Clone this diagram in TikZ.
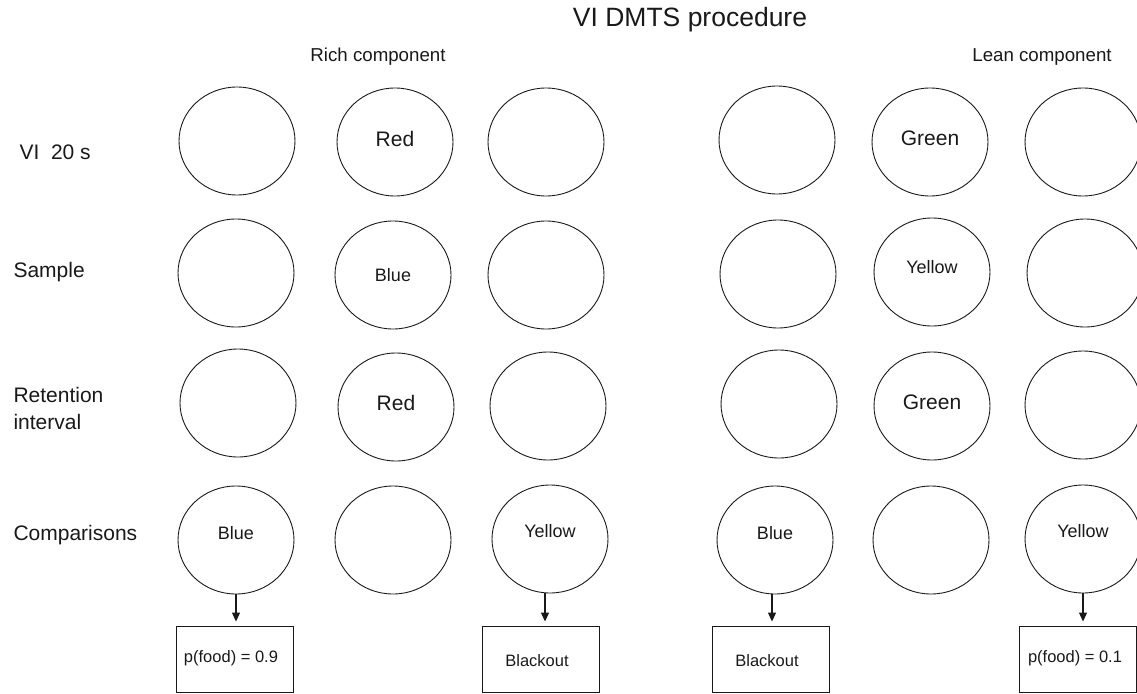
\documentclass[tikz,border=0pt]{standalone}
\usepackage{fontspec}
\setmainfont{Liberation Sans}
\usetikzlibrary{shapes.geometric,arrows.meta}
\tikzset{
  circ/.style={draw=black!90, line width=0.9pt, ellipse, minimum width=116pt, minimum height=108pt, inner sep=0pt},
  boxn/.style={draw=black!90, line width=0.9pt, rectangle, minimum width=117pt, minimum height=66pt, inner sep=0pt},
  big/.style={font=\fontsize{21}{25}\selectfont, text=black!90},
  small/.style={font=\fontsize{18}{22}\selectfont, text=black!90},
  boxtxt/.style={font=\fontsize{16.5}{20}\selectfont, text=black!90},
  rowlab/.style={anchor=west, align=left, font=\fontsize{21}{27}\selectfont, text=black!90},
  comp/.style={font=\fontsize{18.7}{22}\selectfont, text=black!90},
  ttl/.style={font=\fontsize{26.5}{30}\selectfont, text=black!90},
  arr/.style={line width=1.1pt, draw=black!90, -{Triangle[length=9pt,width=8pt]}, shorten >=4pt}
}
\begin{document}
\begin{tikzpicture}[x=1pt,y=-1pt]
\useasboundingbox (0,0) rectangle (1137,693);
% titles
\node[ttl] (title) at (690,20) {VI DMTS procedure};
\node[comp] (rich) at (378,57) {Rich component};
\node[comp] (lean) at (1042,57) {Lean component};
% row labels
\node[rowlab] (l1) at (16,152) {VI\ \ 20 s};
\node[rowlab] (l2) at (10,272) {Sample};
\node[rowlab] (l3) at (10,408) {Retention\\interval};
\node[rowlab] (l4) at (10,535) {Comparisons};
% row 1
\node[circ] (r11) at (237,141) {};
\node[circ, label={[big, yshift=3pt]center:Red}] (r12) at (395,142) {};
\node[circ] (r13) at (546,142) {};
\node[circ] (g11) at (777,140) {};
\node[circ, label={[big, yshift=4pt]center:Green}] (g12) at (930,142) {};
\node[circ] (g13) at (1083,142) {};
% row 2
\node[circ] (r21) at (236,273) {};
\node[circ, label={[small, yshift=0pt]center:Blue}] (r22) at (393,275) {};
\node[circ] (r23) at (546,275) {};
\node[circ] (g21) at (778,274) {};
\node[circ, label={[small, yshift=5pt]center:Yellow}] (g22) at (932,272) {};
\node[circ] (g23) at (1085,273) {};
% row 3
\node[circ] (r31) at (238,403) {};
\node[circ, label={[big, yshift=4pt]center:Red}] (r32) at (396,407) {};
\node[circ] (r33) at (548,406) {};
\node[circ] (g31) at (779,404) {};
\node[circ, label={[big, yshift=4pt]center:Green}] (g32) at (932,406) {};
\node[circ] (g33) at (1083,405) {};
% row 4
\node[circ, label={[small, yshift=7pt]center:Blue}] (r41) at (236,540) {};
\node[circ] (r42) at (393,540) {};
\node[circ, label={[small, yshift=8pt]center:Yellow}] (r43) at (550,539) {};
\node[circ, label={[small, yshift=7pt]center:Blue}] (g41) at (775,540) {};
\node[circ] (g42) at (931,540) {};
\node[circ, label={[small, yshift=8pt]center:Yellow}] (g43) at (1083,539) {};
% outcome boxes
\node[boxn, label={[boxtxt, xshift=-4pt, yshift=1pt]center:p(food) = 0.9}] (b1) at (235,659) {};
\node[boxn, label={[boxtxt, xshift=-4pt, yshift=-2pt]center:Blackout}] (b2) at (541,659) {};
\node[boxn, label={[boxtxt, xshift=-4pt, yshift=-2pt]center:Blackout}] (b3) at (771,659) {};
\node[boxn, label={[boxtxt, xshift=-3pt, yshift=1pt]center:p(food) = 0.1}] (b4) at (1078,659) {};
% arrows
\draw[arr] (r41.south) -- (r41.south |- b1.north);
\draw[arr] ([xshift=-5pt]r43.south) -- ([xshift=-5pt]r43.south |- b2.north);
\draw[arr] ([xshift=-3pt]g41.south) -- ([xshift=-3pt]g41.south |- b3.north);
\draw[arr] (g43.south) -- (g43.south |- b4.north);
\end{tikzpicture}
\end{document}
